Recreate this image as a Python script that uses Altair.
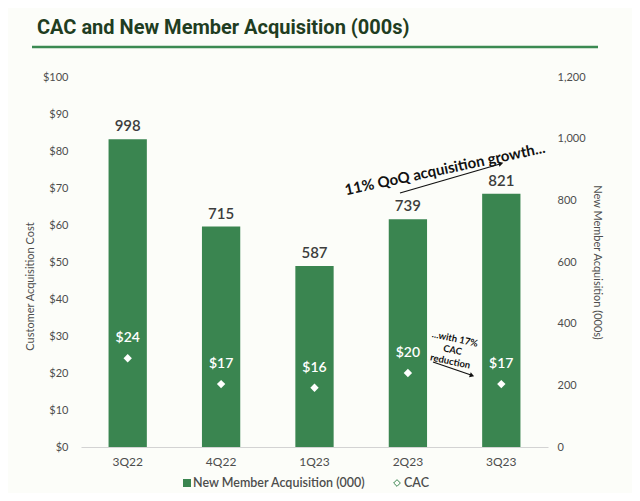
import altair as alt
import pandas as pd

# ---- data ----
quarters = ["3Q22", "4Q22", "1Q23", "2Q23", "3Q23"]
members = [998, 715, 587, 739, 821]
cac = [24, 17, 16, 20, 17]
cac_ticks = [0, 10, 20, 30, 40, 50, 60, 70, 80, 90, 100]
member_ticks = [0, 200, 400, 600, 800, 1000, 1200]
title_text = ["CAC and New Member Acquisition (000s)"]
legend_labels = ["New Member Acquisition (000)", "CAC"]
annot_growth = ["11% QoQ acquisition growth..."]
annot_cac = ["...with 17%", "CAC", "reduction"]

GREEN = "#3a8550"
DARK = "#1f3d22"
GRAY = "#4d4d4d"
FONT = "Lato"

df = pd.DataFrame({"quarter": quarters, "members": members, "cac": cac})
df["cac_label"] = ["$" + str(v) for v in cac]

x = alt.X(
    "quarter:N", sort=quarters,
    scale=alt.Scale(paddingInner=0.59, paddingOuter=0.295),
    axis=alt.Axis(title=None, labelAngle=0, labelFontSize=12, labelColor=GRAY,
                  labelPadding=9, domainColor="#d3d3d3", ticks=False, labelFont=FONT),
)

yM = alt.Y("members:Q", scale=alt.Scale(domain=[0, 1200]), axis=alt.Axis(
    orient="right", values=member_ticks, format=",d", labelOverlap=False,
    title="New Member Acquisition (000s)", grid=False, domain=False, ticks=False,
    labelFontSize=11, labelColor=GRAY, labelPadding=9, labelFont=FONT,
    titleFontSize=11, titleColor=GRAY, titleFontWeight="normal", titleFont=FONT,
    titlePadding=6))

yC = alt.Y("cac:Q", scale=alt.Scale(domain=[0, 100]), axis=alt.Axis(
    orient="left", values=cac_ticks, labelExpr="'$' + datum.value", labelOverlap=False,
    title="Customer Acquisition Cost", grid=False, domain=False, ticks=False,
    labelFontSize=11, labelColor=GRAY, labelPadding=13, labelFont=FONT,
    titleFontSize=11, titleColor=GRAY, titleFontWeight="normal", titleFont=FONT,
    titlePadding=7, titleY=209))

base = alt.Chart(df)

bars = base.mark_bar(color=GREEN).encode(x=x, y=yM)
bar_text = base.mark_text(dy=-13, fontSize=15, color="#3d3d3d", font=FONT,
                          fontWeight=600).encode(x=x, y=yM, text="members:Q")
member_layer = alt.layer(bars, bar_text)

cac_pts = base.mark_point(shape="diamond", filled=True, color="white", size=70,
                          opacity=1).encode(x=x, y=yC)
cac_text = base.mark_text(dy=-20, fontSize=14, color="white", font=FONT,
                          fontWeight=600).encode(x=x, y=yC, text="cac_label:N")
cac_layer = alt.layer(cac_pts, cac_text)

# ---- decorations ----
title = alt.Chart(pd.DataFrame({"t": title_text})).mark_text(
    align="left", baseline="alphabetic", fontSize=20, fontWeight="bold",
    font="Roboto", color=DARK).encode(x=alt.value(-44), y=alt.value(-43), text="t:N")
title_rule = alt.Chart(pd.DataFrame({"a": [0]})).mark_rule(
    color="#3b8a52", strokeWidth=2.5).encode(
    x=alt.value(-49), x2=alt.value(517), y=alt.value(-30))

growth = alt.Chart(pd.DataFrame({"t": annot_growth})).mark_text(
    align="center", baseline="middle", fontSize=15, fontWeight="bold", font=FONT,
    color="#111111", angle=348).encode(x=alt.value(364), y=alt.value(92), text="t:N")
arrow1 = alt.Chart(pd.DataFrame({"a": [0]})).mark_rule(color="#111111", strokeWidth=1.3).encode(
    x=alt.value(319), y=alt.value(116), x2=alt.value(419), y2=alt.value(87))
head1 = alt.Chart(pd.DataFrame({"a": [0]})).mark_point(
    shape="triangle-right", filled=True, color="#111111", size=30, angle=344, opacity=1).encode(
    x=alt.value(420), y=alt.value(86.5))

cac_note = alt.Chart(pd.DataFrame({"t": ["\n".join(annot_cac)]})).mark_text(
    align="center", baseline="middle", fontSize=9.5, fontWeight="bold", font=FONT,
    color="#111111", angle=12, lineBreak="\n", lineHeight=11.5).encode(
    x=alt.value(374), y=alt.value(262), text="t:N")
arrow2 = alt.Chart(pd.DataFrame({"a": [0]})).mark_rule(color="#111111", strokeWidth=1.3).encode(
    x=alt.value(352), y=alt.value(285), x2=alt.value(390), y2=alt.value(298))
head2 = alt.Chart(pd.DataFrame({"a": [0]})).mark_point(
    shape="triangle-right", filled=True, color="#111111", size=26, angle=19, opacity=1).encode(
    x=alt.value(391), y=alt.value(298.5))

leg_sq = alt.Chart(pd.DataFrame({"a": [0]})).mark_point(
    shape="square", filled=True, color=GREEN, size=64, opacity=1).encode(
    x=alt.value(106), y=alt.value(406))
leg_t1 = alt.Chart(pd.DataFrame({"t": [legend_labels[0]]})).mark_text(
    align="left", baseline="middle", fontSize=12.5, font=FONT, color=GRAY, fontWeight=600).encode(
    x=alt.value(112), y=alt.value(406), text="t:N")
leg_dm = alt.Chart(pd.DataFrame({"a": [0]})).mark_point(
    shape="diamond", filled=False, color=GREEN, size=45, strokeWidth=1, opacity=1).encode(
    x=alt.value(316), y=alt.value(406))
leg_t2 = alt.Chart(pd.DataFrame({"t": [legend_labels[1]]})).mark_text(
    align="left", baseline="middle", fontSize=12.5, font=FONT, color=GRAY, fontWeight=600).encode(
    x=alt.value(323), y=alt.value(406), text="t:N")

chart = alt.layer(
    member_layer, cac_layer, title, title_rule, growth, arrow1, head1,
    cac_note, arrow2, head2, leg_sq, leg_t1, leg_dm, leg_t2,
).resolve_scale(y="independent").properties(
    width=467, height=370,
    autosize=alt.AutoSizeParams(type="none"),
    padding={"left": 73, "top": 69, "right": 84, "bottom": 46},
    background="#fcfdf9",
).configure_view(stroke=None)

chart.save("out.html", embed_options={"renderer": "svg", "actions": False})
